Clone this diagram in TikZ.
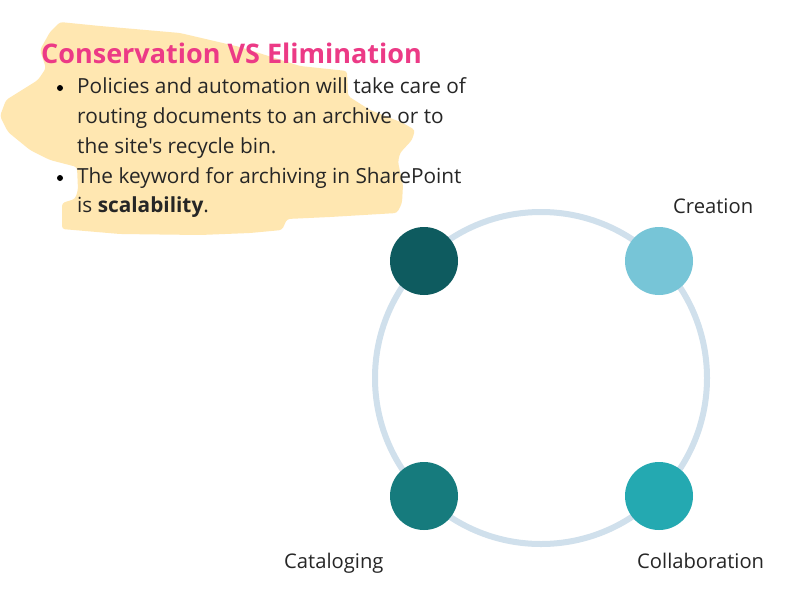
\documentclass[tikz,border=0pt]{standalone}
\usepackage{fontspec}
\newfontfamily\osans{Open Sans}
\definecolor{brush}{HTML}{FFE7B1}
\definecolor{titlepink}{HTML}{EC3A86}
\definecolor{ringblue}{HTML}{D0E0EC}
\definecolor{dotA}{HTML}{0E5B5F}
\definecolor{dotB}{HTML}{77C5D7}
\definecolor{dotC}{HTML}{167B7D}
\definecolor{dotD}{HTML}{24A9B1}
\definecolor{ink}{HTML}{262626}
\tikzset{
  bodytext/.style={anchor=base west, inner sep=0pt, text=ink, font=\osans\fontsize{20.8}{25}\selectfont},
  lbl/.style={anchor=base west, inner sep=0pt, text=ink, font=\osans\fontsize{20.2}{24}\selectfont},
  bulletdot/.style={circle, fill=black, inner sep=0pt, minimum size=6pt},
  stagedot/.style={circle, inner sep=0pt, minimum size=68pt},
}
\begin{document}
\begin{tikzpicture}[x=1pt,y=-1pt]
\useasboundingbox (0,0) rectangle (800,600);
\fill[white] (0,0) rectangle (800,600);
% brush stroke
\fill[brush, rounded corners=3pt]
  (60,22) -- (100,26) -- (180,33) -- (240,47) -- (300,66) -- (347,71)
  -- (348,96) -- (370,110) -- (403,123) -- (415,130) -- (412,140)
  -- (400,153) -- (398,162) -- (403,185) -- (402,203) -- (397,213)
  -- (330,217) -- (287,219) -- (282,230) -- (250,233) -- (200,235)
  -- (120,234) -- (62,229) -- (62,203) -- (75,199) -- (78,190)
  -- (77,167) -- (50,160) -- (30,150) -- (8,132) -- (0,116)
  -- (6,100) -- (38,80) -- (46,68) -- (40,50) -- (50,32) -- cycle;
% title
\node[anchor=base west, inner sep=0pt, text=titlepink,
      font=\osans\fontsize{27}{32}\selectfont\bfseries] (title) at (41,63) {Conservation VS Elimination};
% bullets
\node[bulletdot] (b1) at (60,88) {};
\node[bulletdot] (b2) at (60,178) {};
\node[bodytext] (l1) at (77,93) {Policies and automation will take care of};
\node[bodytext] (l2) at (77,123) {routing documents to an archive or to};
\node[bodytext] (l3) at (77,153) {the site's recycle bin.};
\node[bodytext] (l4) at (77,183) {The keyword for archiving in SharePoint};
\node[bodytext] (l5) at (77,212) {is \textbf{scalability}.};
% ring
\node[circle, draw=ringblue, line width=6pt, minimum size=332pt, inner sep=0pt] (ring) at (541,378) {};
% stage dots
\node[stagedot, fill=dotA] (d1) at (424,261) {};
\node[stagedot, fill=dotB] (d2) at (659,261) {};
\node[stagedot, fill=dotC] (d3) at (424,496) {};
\node[stagedot, fill=dotD] (d4) at (659,496) {};
% labels
\node[lbl] (creation) at (673,213) {Creation};
\node[lbl] (collab) at (637,568) {Collaboration};
\node[lbl] (catalog) at (284,568) {Cataloging};
\end{tikzpicture}
\end{document}
